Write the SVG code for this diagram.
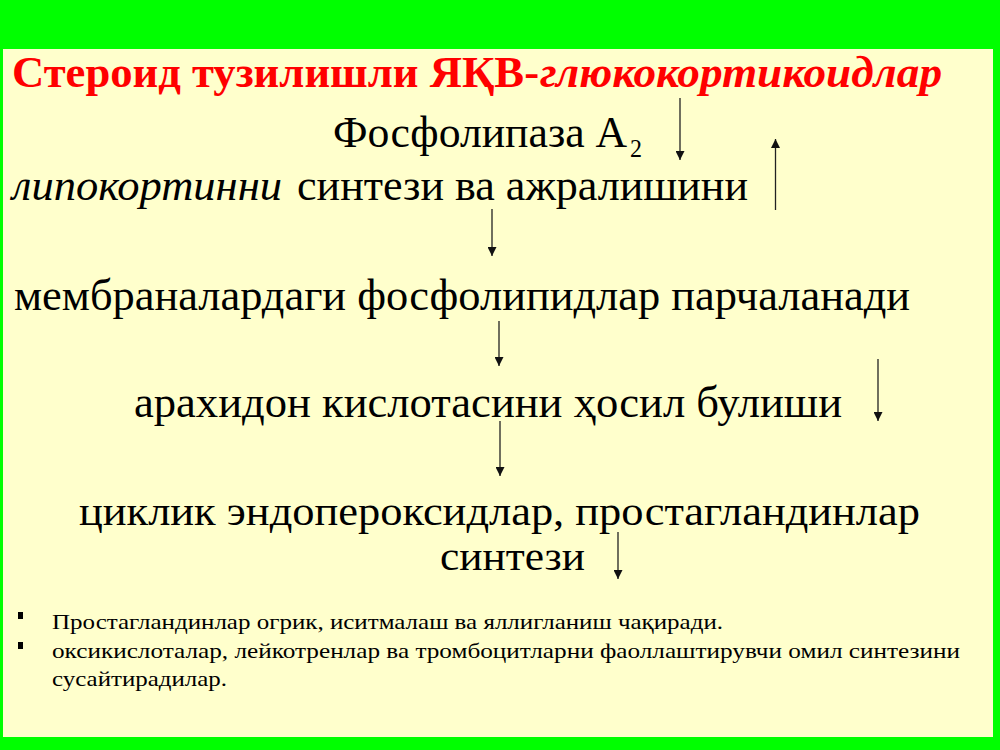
<svg xmlns="http://www.w3.org/2000/svg" width="1000" height="750" viewBox="0 0 1000 750">
<style>
.t{font-family:"Liberation Serif","Times New Roman","DejaVu Serif",serif;fill:#000}
.main{font-size:44px}
.main2{font-size:40px}
.title{font-size:44px;font-weight:bold;fill:#ff0000}
.it{font-style:italic}
.small{font-size:22px}
.arr{stroke:#222;stroke-width:1.3;fill:none;marker-end:url(#ah)}
</style>
<defs>
<marker id="ah" viewBox="0 0 10 10" refX="10" refY="5" markerWidth="9" markerHeight="9" markerUnits="userSpaceOnUse" orient="auto">
<path d="M0,0 L10,5 L0,10 z" fill="#111"/>
</marker>
</defs>
<rect x="0" y="0" width="1000" height="750" fill="#00ff00"/>
<rect x="3" y="49" width="990" height="688" fill="#ffffcc"/>

<g id="title">
<text class="t title" x="12" y="87" textLength="527" lengthAdjust="spacingAndGlyphs">Стероид тузилишли ЯҚВ-</text>
<text class="t title it" x="540" y="87" textLength="402" lengthAdjust="spacingAndGlyphs">глюкокортикоидлар</text>
</g>

<g id="phospholipase">
<text class="t main" x="333" y="147" textLength="294" lengthAdjust="spacingAndGlyphs">Фосфолипаза А</text>
<text class="t" x="630" y="157" font-size="26" textLength="12" lengthAdjust="spacingAndGlyphs">2</text>
</g>

<g id="lipocortin">
<text class="t main it" x="12" y="200" textLength="270" lengthAdjust="spacingAndGlyphs">липокортинни</text>
<text class="t main" x="297" y="200" textLength="451" lengthAdjust="spacingAndGlyphs">синтези ва ажралишини</text>
</g>

<g id="membrane">
<text class="t main" x="14" y="310" textLength="896" lengthAdjust="spacingAndGlyphs">мембраналардаги фосфолипидлар парчаланади</text>
</g>

<g id="arachidon">
<text class="t main" x="134" y="417" textLength="708" lengthAdjust="spacingAndGlyphs">арахидон кислотасини ҳосил булиши</text>
</g>

<g id="cyclic">
<text class="t main2" x="79" y="525" textLength="841" lengthAdjust="spacingAndGlyphs">циклик эндопероксидлар, простагландинлар</text>
<text class="t main2" x="440" y="570" textLength="145" lengthAdjust="spacingAndGlyphs">синтези</text>
</g>

<g id="notes">
<rect x="18" y="612" width="5" height="7" fill="#000"/>
<text class="t small" x="52" y="629" textLength="671" lengthAdjust="spacingAndGlyphs">Простагландинлар огрик, иситмалаш ва яллигланиш чақиради.</text>
<rect x="18" y="642" width="5" height="7" fill="#000"/>
<text class="t small" x="52" y="658" textLength="908" lengthAdjust="spacingAndGlyphs">оксикислоталар, лейкотренлар ва тромбоцитларни фаоллаштирувчи  омил синтезини</text>
<text class="t small" x="52" y="686" textLength="175" lengthAdjust="spacingAndGlyphs">сусайтирадилар.</text>
</g>

<g id="connectors">
<line class="arr" x1="680" y1="98" x2="680" y2="160"/>
<line class="arr" x1="775.5" y1="210" x2="775.5" y2="139"/>
<line class="arr" x1="492" y1="209" x2="492" y2="256"/>
<line class="arr" x1="499" y1="321" x2="499" y2="366"/>
<line class="arr" x1="878" y1="359" x2="878" y2="421"/>
<line class="arr" x1="500" y1="421" x2="500" y2="476"/>
<line class="arr" x1="618" y1="532" x2="618" y2="579"/>
</g>
</svg>
